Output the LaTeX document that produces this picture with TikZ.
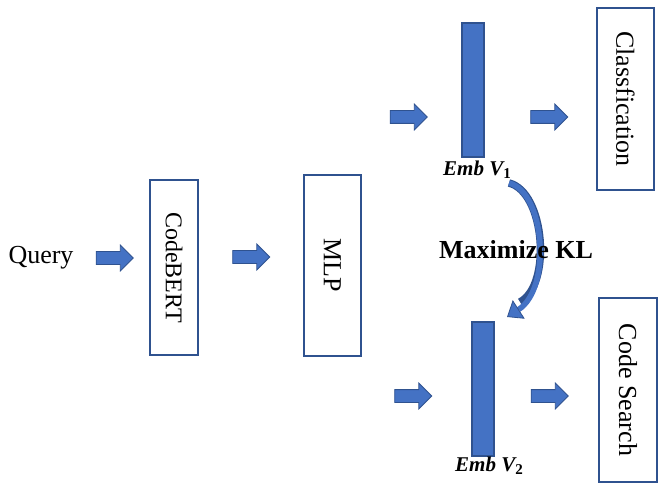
\documentclass[tikz,border=0pt]{standalone}
\usepackage{fontspec}
\setmainfont{Liberation Serif}
\usetikzlibrary{shapes.arrows,arrows.meta}
\definecolor{embfill}{HTML}{4472C4}
\definecolor{embedge}{HTML}{2F528F}

\begin{document}
\begin{tikzpicture}[x=1pt,y=-1pt,
 blk/.style={draw=embedge,line width=1.6pt,rotate=-90,inner sep=0pt,
  font=\fontsize{26}{28}\selectfont},
 emb/.style={draw=embedge,fill=embfill,line width=1.2pt,minimum width=22pt,
  minimum height=134pt,inner sep=0pt},
 fat/.style={single arrow,draw=embedge,fill=embfill,line width=0.8pt,
  minimum height=37pt,inner xsep=0pt,inner ysep=6pt,single arrow head extend=6.5pt},
 emblbl/.style={font=\fontsize{21}{24}\selectfont\bfseries\itshape}]
 \useasboundingbox (0,0) rectangle (666,486);
 % left part
 \node[font=\fontsize{26}{28}\selectfont] (query) at (41,258) {Query};
 \node[fat] (a1) at (111.5,258) {};
 \node[blk,minimum width=175pt,minimum height=48pt,font=\fontsize{24}{26}\selectfont]
  (codebert) at (174,267.5) {CodeBERT};
 \node[fat] (a2) at (248,257) {};
 \node[blk,minimum width=181pt,minimum height=57pt] (mlp) at (332.5,265.5) {MLP};
 % upper branch
 \node[fat] (a3) at (405.5,117) {};
 \node[emb] (v1) at (473,90) {};
 \node[emblbl] (v1lbl) at (477,170) {Emb V\raisebox{-0.3ex}{\fontsize{15}{15}\selectfont\upshape 1}};
 \node[fat] (a4) at (546,117) {};
 \node[blk,minimum width=182pt,minimum height=57pt] (cls) at (625.5,99) {Classfication};
 % lower branch
 \node[fat] (a5) at (410,396) {};
 \node[emb] (v2) at (483,389) {};
 \node[emblbl] (v2lbl) at (489,466) {Emb V\raisebox{-0.3ex}{\fontsize{15}{15}\selectfont\upshape 2}};
 \node[fat] (a6) at (546.5,396) {};
 \node[blk,minimum width=184pt,minimum height=58pt] (search) at (628,390) {Code Search};
 % KL arrow
 \coordinate (k1) at (509,183);
 \coordinate (k2) at (507,317);
 \draw[embedge,line width=7.5pt] (k1) .. controls (545,192) and (552,285) .. (520,302);
 \draw[embfill,line width=5.5pt,-{Triangle[length=14pt,width=22pt,fill=embfill,color=embedge,line width=0.8pt]}]
  (k1) .. controls (545,192) and (552,288) .. (k2);
 \node[font=\fontsize{26}{28}\selectfont\bfseries] (kl) at (516,250) {Maximize KL};
\end{tikzpicture}
\end{document}
